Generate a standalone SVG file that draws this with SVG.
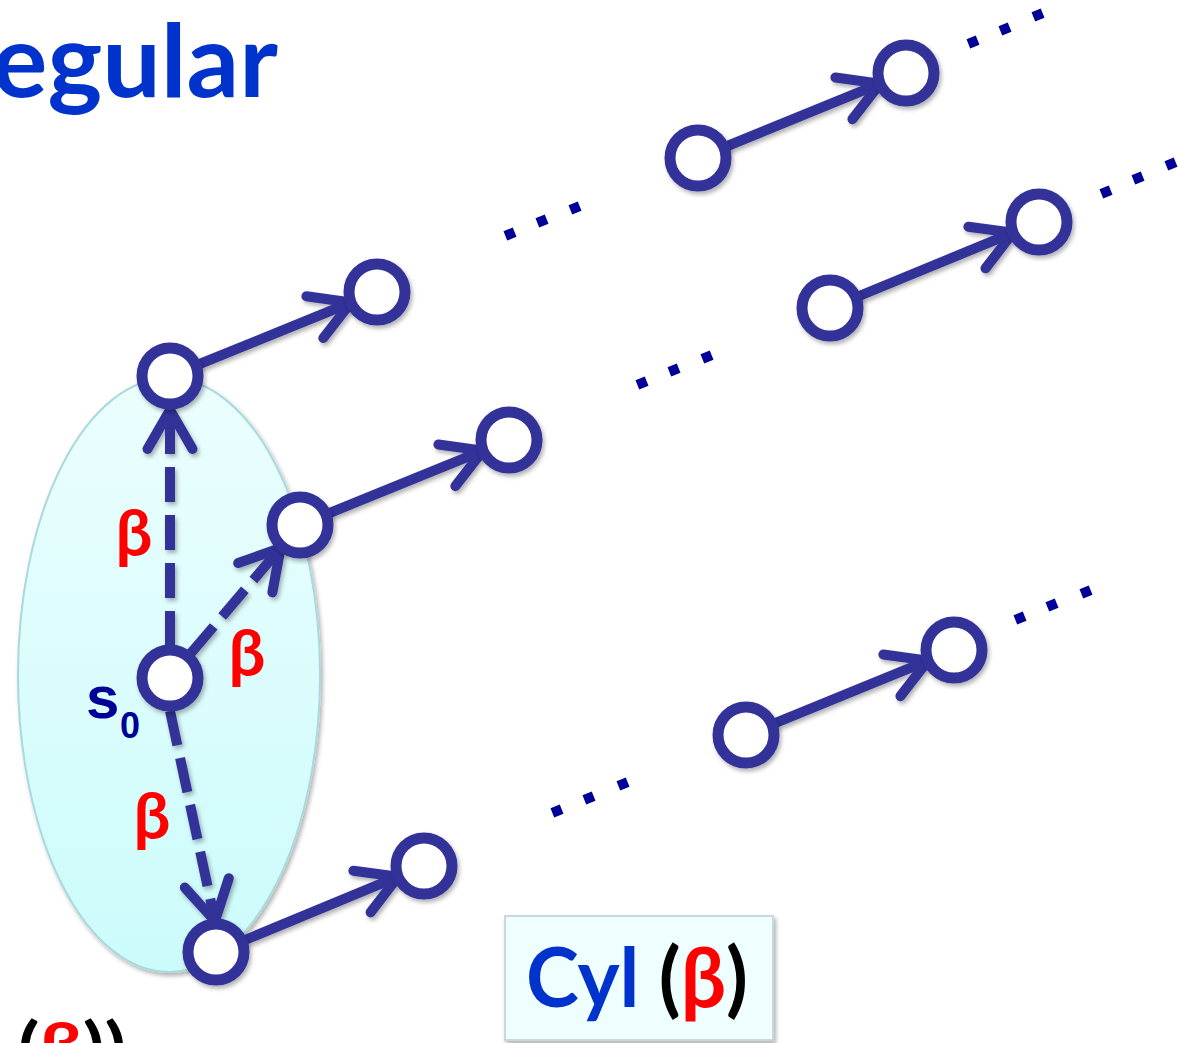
<svg xmlns="http://www.w3.org/2000/svg" width="1178" height="1043" viewBox="0 0 1178 1043">
<style>
.node{fill:#ffffff;stroke:#333399;stroke-width:11}
.edge{fill:none;stroke:#333399;stroke-width:10;marker-end:url(#arr)}
.dash{stroke-dasharray:35 13}
.dot{fill:#000099}
.beta{font-family:Lato,"Open Sans","Liberation Sans",sans-serif;font-weight:bold;font-size:65px;fill:#ff0000;text-anchor:middle}
.big{font-family:Lato,"Open Sans","Liberation Sans",sans-serif;font-weight:bold}
</style>
<defs>
<marker id="arr" markerUnits="userSpaceOnUse" orient="auto" refX="0" refY="0" markerWidth="60" markerHeight="60" overflow="visible">
<path d="M-39,-22.5 L0,0 L-39,22.5" fill="none" stroke="#333399" stroke-width="10" stroke-linecap="round" stroke-linejoin="round"/>
</marker>
<linearGradient id="cyan" x1="0" y1="0" x2="0" y2="1">
<stop offset="0" stop-color="#ecfefe"/>
<stop offset="1" stop-color="#ccfbfb"/>
</linearGradient>
<filter id="sh" x="-10%" y="-10%" width="130%" height="130%">
<feDropShadow dx="2" dy="3" stdDeviation="2" flood-color="#000000" flood-opacity="0.3"/>
</filter>
</defs>
<rect width="1178" height="1043" fill="#ffffff"/>

<text class="big" x="-8" y="97" font-size="102" fill="#0033cc" textLength="286" lengthAdjust="spacingAndGlyphs">egular</text>

<g id="cylinder-set">
<ellipse cx="169" cy="675" rx="151" ry="297" fill="url(#cyan)" stroke="#a9d9dc" stroke-width="2" filter="url(#sh)"/>
</g>

<g id="connectors" filter="url(#sh)">
<path class="edge" d="M170,376 L351,302.5"/>
<path class="edge" d="M300,525 L483,450.6"/>
<path class="edge" d="M216,952 L398,876.7"/>
<path class="edge" d="M698,158 L880,83.6"/>
<path class="edge" d="M830,308 L1013,232.7"/>
<path class="edge" d="M746,735 L928,660.6"/>
<path class="edge dash" d="M170,646 L170,410"/>
<path class="edge dash" d="M191,653 L280.6,548"/>
<path class="edge dash" d="M170,711 L215,921"/>
</g>

<g id="nodes" filter="url(#sh)">
<g id="n-a"><circle class="node" cx="170" cy="376" r="28"/></g>
<g id="n-a2"><circle class="node" cx="377" cy="292" r="28"/></g>
<g id="n-b"><circle class="node" cx="300" cy="525" r="28"/></g>
<g id="n-b2"><circle class="node" cx="509" cy="440" r="28"/></g>
<g id="n-s0"><circle class="node" cx="170" cy="678" r="28"/></g>
<g id="n-d"><circle class="node" cx="216" cy="952" r="28"/></g>
<g id="n-d2"><circle class="node" cx="424" cy="866" r="28"/></g>
<g id="n-r1"><circle class="node" cx="698" cy="158" r="28"/></g>
<g id="n-r1b"><circle class="node" cx="906" cy="73" r="28"/></g>
<g id="n-r2"><circle class="node" cx="830" cy="308" r="28"/></g>
<g id="n-r2b"><circle class="node" cx="1039" cy="222" r="28"/></g>
<g id="n-r3"><circle class="node" cx="746" cy="735" r="28"/></g>
<g id="n-r3b"><circle class="node" cx="954" cy="650" r="28"/></g>
</g>

<g id="dots">
<rect class="dot" x="-5" y="-5" width="10" height="10" transform="translate(510,234) rotate(-22)"/>
<rect class="dot" x="-5" y="-5" width="10" height="10" transform="translate(542,221) rotate(-22)"/>
<rect class="dot" x="-5" y="-5" width="10" height="10" transform="translate(575,208) rotate(-22)"/>
<rect class="dot" x="-5" y="-5" width="10" height="10" transform="translate(642,383) rotate(-22)"/>
<rect class="dot" x="-5" y="-5" width="10" height="10" transform="translate(674,370) rotate(-22)"/>
<rect class="dot" x="-5" y="-5" width="10" height="10" transform="translate(707,357) rotate(-22)"/>
<rect class="dot" x="-5" y="-5" width="10" height="10" transform="translate(973,42) rotate(-22)"/>
<rect class="dot" x="-5" y="-5" width="10" height="10" transform="translate(1005,29) rotate(-22)"/>
<rect class="dot" x="-5" y="-5" width="10" height="10" transform="translate(1038,15) rotate(-22)"/>
<rect class="dot" x="-5" y="-5" width="10" height="10" transform="translate(1106,192) rotate(-22)"/>
<rect class="dot" x="-5" y="-5" width="10" height="10" transform="translate(1138,178) rotate(-22)"/>
<rect class="dot" x="-5" y="-5" width="10" height="10" transform="translate(1171,164) rotate(-22)"/>
<rect class="dot" x="-5" y="-5" width="10" height="10" transform="translate(1020,618) rotate(-22)"/>
<rect class="dot" x="-5" y="-5" width="10" height="10" transform="translate(1052,605) rotate(-22)"/>
<rect class="dot" x="-5" y="-5" width="10" height="10" transform="translate(1086,592) rotate(-22)"/>
<rect class="dot" x="-5" y="-5" width="10" height="10" transform="translate(557,811) rotate(-22)"/>
<rect class="dot" x="-5" y="-5" width="10" height="10" transform="translate(589,798) rotate(-22)"/>
<rect class="dot" x="-5" y="-5" width="10" height="10" transform="translate(623,784) rotate(-22)"/>
</g>

<g id="labels">
<text class="beta" x="134" y="556">β</text>
<text class="beta" x="247" y="676">β</text>
<text class="beta" x="152" y="839">β</text>
<text x="86" y="718" font-family="'Liberation Sans',Arial,sans-serif" font-weight="bold" font-size="60" fill="#000099">s</text>
<text x="120" y="738" font-family="'Liberation Sans',Arial,sans-serif" font-weight="bold" font-size="36" fill="#000099">0</text>
</g>

<g id="cyl-box">
<rect x="505" y="916" width="268" height="124" fill="#effefe" stroke="#c8d8e0" stroke-width="2" filter="url(#sh)"/>
<text class="big" x="526" y="1007" font-size="82" textLength="222" lengthAdjust="spacingAndGlyphs"><tspan fill="#0033cc">Cyl </tspan><tspan fill="#000000">(</tspan><tspan fill="#ff0000">β</tspan><tspan fill="#000000">)</tspan></text>
</g>

<text class="big" x="18" y="1068" font-size="64" textLength="108" lengthAdjust="spacingAndGlyphs"><tspan fill="#000000">(</tspan><tspan fill="#ff0000">β</tspan><tspan fill="#000000">))</tspan></text>
</svg>
